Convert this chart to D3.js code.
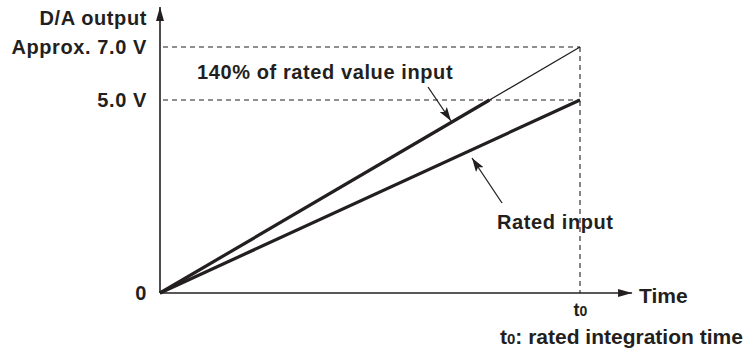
<!DOCTYPE html>
<html>
<head>
<meta charset="utf-8">
<script src="https://cdn.jsdelivr.net/npm/d3@7"></script>
<style>
  html, body { margin: 0; padding: 0; background: #fff; }
  svg { display: block; }
  text { font-family: "Liberation Sans", Arial, Helvetica, sans-serif; font-weight: bold; fill: #231f20; }
</style>
</head>
<body>
<svg id="chart" width="745" height="350"></svg>
<script>
// Time in units of the rated integration time t0
const times = [0, 1];
// D/A output (V) for each input level
const ratedOutput = [0, 5.0];
const overOutput = [0, 7.0];
// Reference levels on the output axis
const yTickValues = [0, 5.0, 7.0];
const yTickLabels = ["0", "5.0 V", "Approx. 7.0 V"];
const xTickValues = [1];

const ink = "#231f20";
const svg = d3.select("#chart");

const x = d3.scaleLinear().domain([0, 1]).range([160, 580]);
// Schematic (piecewise) output scale
const y = d3.scaleLinear().domain([0, 5, 7]).range([293, 100, 47]);

const xEnd = 1.124;   // x-axis arrow tip, in t0 units
const yTopPx = 7;     // y-axis arrow tip

// Arrowhead markers
const defs = svg.append("defs");
defs.append("marker")
  .attr("id", "axisHead").attr("viewBox", "0 0 14 8")
  .attr("refX", 14).attr("refY", 4)
  .attr("markerWidth", 14).attr("markerHeight", 8)
  .attr("markerUnits", "userSpaceOnUse").attr("orient", "auto")
  .append("path").attr("d", "M0,0 L14,4 L0,8 Z").attr("fill", ink);
defs.append("marker")
  .attr("id", "noteHead").attr("viewBox", "0 0 14 9")
  .attr("refX", 14).attr("refY", 4.5)
  .attr("markerWidth", 14).attr("markerHeight", 9)
  .attr("markerUnits", "userSpaceOnUse").attr("orient", "auto")
  .append("path").attr("d", "M0,0 L14,4.5 L0,9 L3,4.5 Z").attr("fill", ink);

// Dashed guide lines
const guides = svg.append("g")
  .attr("stroke", ink).attr("stroke-width", 1.1)
  .attr("stroke-dasharray", "5,4").attr("fill", "none");
[5.0, 7.0].forEach(v => {
  guides.append("line")
    .attr("x1", x(0) + 3).attr("x2", x(1))
    .attr("y1", y(v)).attr("y2", y(v));
});
guides.append("line")
  .attr("x1", x(1)).attr("x2", x(1))
  .attr("y1", y(7.0)).attr("y2", y(0));

const labelFont = g => g.attr("fill", ink).style("font-size", "20px")
  .style("letter-spacing", "0.6px")
  .style("font-family", "'Liberation Sans', Arial, sans-serif").style("font-weight", "bold");

// Y axis (labels only; the axis line is drawn with an arrow)
const yAxis = d3.axisLeft(y)
  .tickValues(yTickValues)
  .tickFormat((d, i) => yTickLabels[i])
  .tickSize(0).tickPadding(13);
const gy = svg.append("g").attr("transform", `translate(${x(0)},0)`).call(yAxis);
gy.select(".domain").remove();
gy.selectAll("text").call(labelFont);

// X axis tick label t0 (small zero on the baseline)
const xAxis = d3.axisBottom(x).tickValues(xTickValues).tickSize(0).tickPadding(10).tickFormat(() => "");
const gx = svg.append("g").attr("transform", `translate(0,${y(0)})`).call(xAxis);
gx.select(".domain").remove();
gx.selectAll(".tick text").each(function () {
  const t = d3.select(this)
    .attr("fill", ink).style("font-size", "18px")
    .style("font-family", "'Liberation Sans', sans-serif").style("font-weight", "bold");
  t.append("tspan").text("t");
  t.append("tspan").style("font-size", "14px").text("0");
});

// Axis lines with arrowheads
svg.append("line")
  .attr("x1", x(0)).attr("y1", y(0)).attr("x2", x(0)).attr("y2", yTopPx)
  .attr("stroke", ink).attr("stroke-width", 1.6).attr("marker-end", "url(#axisHead)");
svg.append("line")
  .attr("x1", x(0)).attr("y1", y(0)).attr("x2", x(xEnd)).attr("y2", y(0))
  .attr("stroke", ink).attr("stroke-width", 1.6).attr("marker-end", "url(#axisHead)");

// Output lines
const toPx = d => [x(d[0]), y(d[1])];
const ratedPts = times.map((t, i) => toPx([t, ratedOutput[i]]));
const overPts = times.map((t, i) => toPx([t, overOutput[i]]));
const path = d3.line();

svg.append("path").attr("d", path(ratedPts))
  .attr("fill", "none").attr("stroke", ink).attr("stroke-width", 3.2);

// 140% line: heavy up to the 5.0 V guide, thin above it
const f = (y(0) - y(5.0)) / (overPts[0][1] - overPts[1][1]);
const cross = d3.interpolate(overPts[0], overPts[1])(f);
svg.append("path").attr("d", path([overPts[0], cross]))
  .attr("fill", "none").attr("stroke", ink).attr("stroke-width", 3.2);
svg.append("path").attr("d", path([cross, overPts[1]]))
  .attr("fill", "none").attr("stroke", ink).attr("stroke-width", 1.3);

// Text labels
svg.append("text").attr("x", 147).attr("y", 25).attr("text-anchor", "end")
  .call(labelFont).text("D/A output");

svg.append("text").attr("x", 197).attr("y", 79)
  .call(labelFont).text("140% of rated value input");

svg.append("text").attr("x", 497).attr("y", 229)
  .call(labelFont).text("Rated input");

svg.append("text").attr("x", 639).attr("y", 303)
  .style("font-size", "21px").text("Time");

const note = svg.append("text").attr("x", 500).attr("y", 344)
  .style("font-size", "21px");
note.append("tspan").text("t");
note.append("tspan").style("font-size", "15px").text("0");
note.append("tspan").text(": rated integration time");

// Annotation arrows
const ann = svg.append("g").attr("stroke", ink).attr("stroke-width", 1.3)
  .attr("fill", "none").attr("marker-end", "url(#noteHead)");
ann.append("line").attr("x1", 428).attr("y1", 87).attr("x2", 451).attr("y2", 121);
ann.append("line").attr("x1", 502).attr("y1", 203).attr("x2", 472).attr("y2", 158);
</script>
</body>
</html>
